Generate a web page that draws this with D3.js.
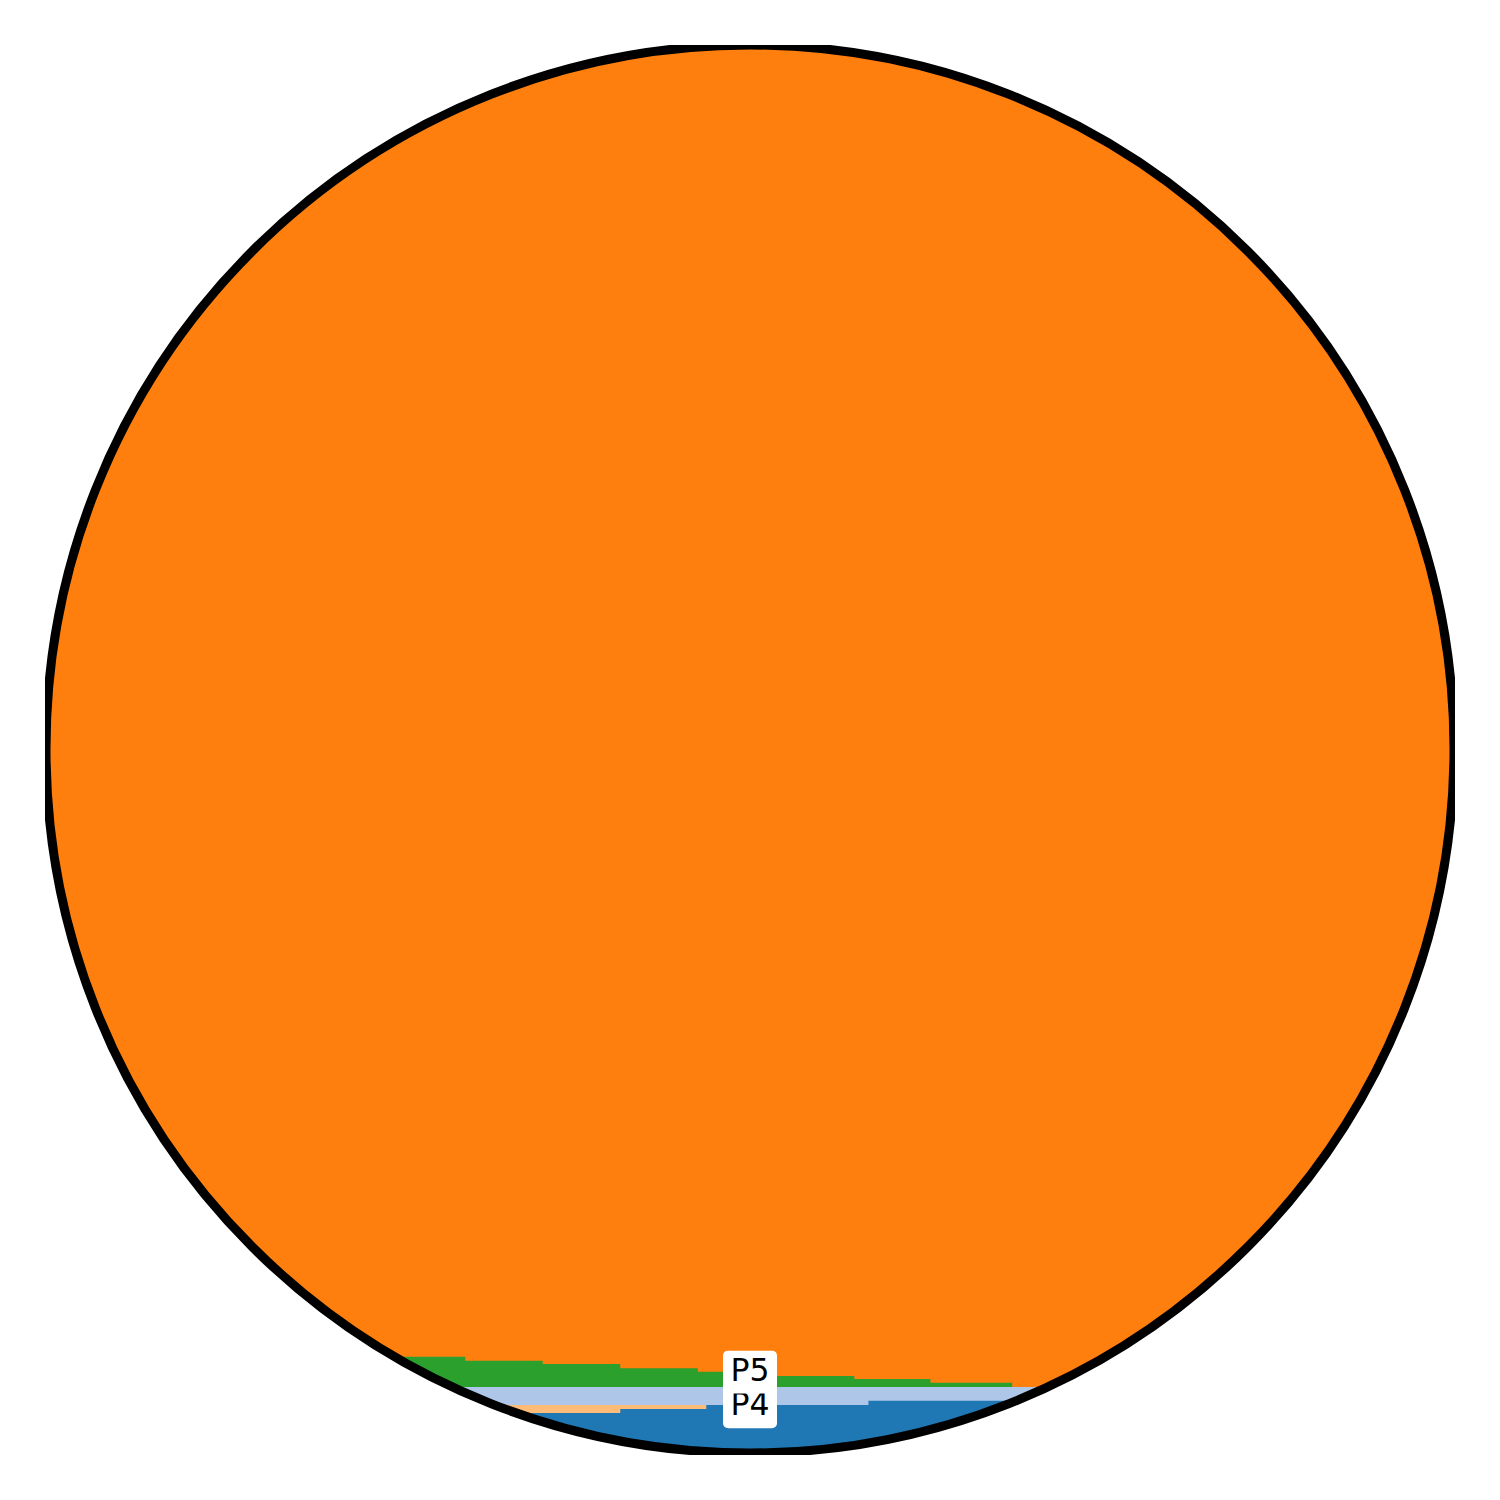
<!DOCTYPE html>
<html>
<head>
<meta charset="utf-8">
<script src="https://cdn.jsdelivr.net/npm/d3@7"></script>
<style>
  html, body { margin: 0; padding: 0; background: #ffffff; }
  svg { display: block; }
</style>
</head>
<body>
<div id="chart"></div>
<script>
// ---- data ----
const orangeEdges = [0, 100];
const orangeTops  = [100];

const greenEdges = [0, 29.8, 35.3, 40.8, 46.3, 51.8, 57.4, 62.8, 68.6, 100];
const greenTops  = [6.97, 6.69, 6.45, 6.15, 5.91, 5.60, 5.39, 5.13, 0];

const lightBlueEdges = [0, 100];
const lightBlueTops  = [4.82];

const peachEdges = [0, 100];
const peachTops  = [3.55];

const blueEdges = [0, 34.5, 40.8, 46.9, 58.4, 100];
const blueTops  = [0, 2.98, 3.26, 3.55, 3.85];

const seriesNames  = ["orange", "green", "lightblue", "peach", "blue"];
const seriesColors = ["#ff7f0e", "#2ca02c", "#aec7e8", "#ffbb78", "#1f77b4"];
const seriesEdges  = [orangeEdges, greenEdges, lightBlueEdges, peachEdges, blueEdges];
const seriesTops   = [orangeTops, greenTops, lightBlueTops, peachTops, blueTops];

const labelTexts = ["P4", "P5"];
const labelX     = [50, 50];
const labelY     = [3.62, 6.09];

// ---- layout ----
const W = 1500, H = 1500;
const box = { x0: 45, x1: 1455, y0: 45, y1: 1455 };
const circle = { cx: 750, cy: 749, r: 704 };

const x = d3.scaleLinear().domain([0, 100]).range([box.x0, box.x1]);
const y = d3.scaleLinear().domain([0, 100]).range([box.y1, box.y0]);

const svg = d3.select("#chart").append("svg")
  .attr("width", W).attr("height", H)
  .attr("viewBox", `0 0 ${W} ${H}`);

const defs = svg.append("defs");
defs.append("clipPath").attr("id", "circClip")
  .append("circle")
  .attr("cx", circle.cx).attr("cy", circle.cy).attr("r", circle.r);
defs.append("clipPath").attr("id", "boxClip")
  .append("rect")
  .attr("x", box.x0).attr("y", box.y0)
  .attr("width", box.x1 - box.x0).attr("height", box.y1 - box.y0);

const area = d3.area()
  .curve(d3.curveStepAfter)
  .x(d => x(d[0]))
  .y0(y(0))
  .y1(d => y(d[1]));

const g = svg.append("g").attr("clip-path", "url(#circClip)");

seriesNames.forEach((name, i) => {
  const edges = seriesEdges[i], tops = seriesTops[i];
  const pts = edges.map((e, k) => [e, tops[Math.min(k, tops.length - 1)]]);
  g.append("path")
    .attr("class", "layer " + name)
    .attr("d", area(pts))
    .attr("fill", seriesColors[i])
    .attr("stroke", "none");
});

// circle frame
svg.append("g").attr("clip-path", "url(#boxClip)")
  .append("circle")
  .attr("cx", circle.cx).attr("cy", circle.cy).attr("r", circle.r)
  .attr("fill", "none")
  .attr("stroke", "#000000")
  .attr("stroke-width", 9);

// labels
const fs = 31.5;
labelTexts.forEach((t, i) => {
  const cx = x(labelX[i]), cy = y(labelY[i]);
  const lg = svg.append("g").attr("class", "label");
  lg.append("rect")
    .attr("x", cx - 27).attr("y", cy + 2.9 - 21.4)
    .attr("width", 54).attr("height", 42.8)
    .attr("rx", 5).attr("ry", 5)
    .attr("fill", "#ffffff").attr("stroke", "none");
  lg.append("text")
    .attr("x", cx).attr("y", cy + 0.3645 * fs)
    .attr("text-anchor", "middle")
    .attr("font-family", "DejaVu Sans")
    .attr("font-size", fs)
    .attr("fill", "#000000")
    .text(t);
});
</script>
</body>
</html>
